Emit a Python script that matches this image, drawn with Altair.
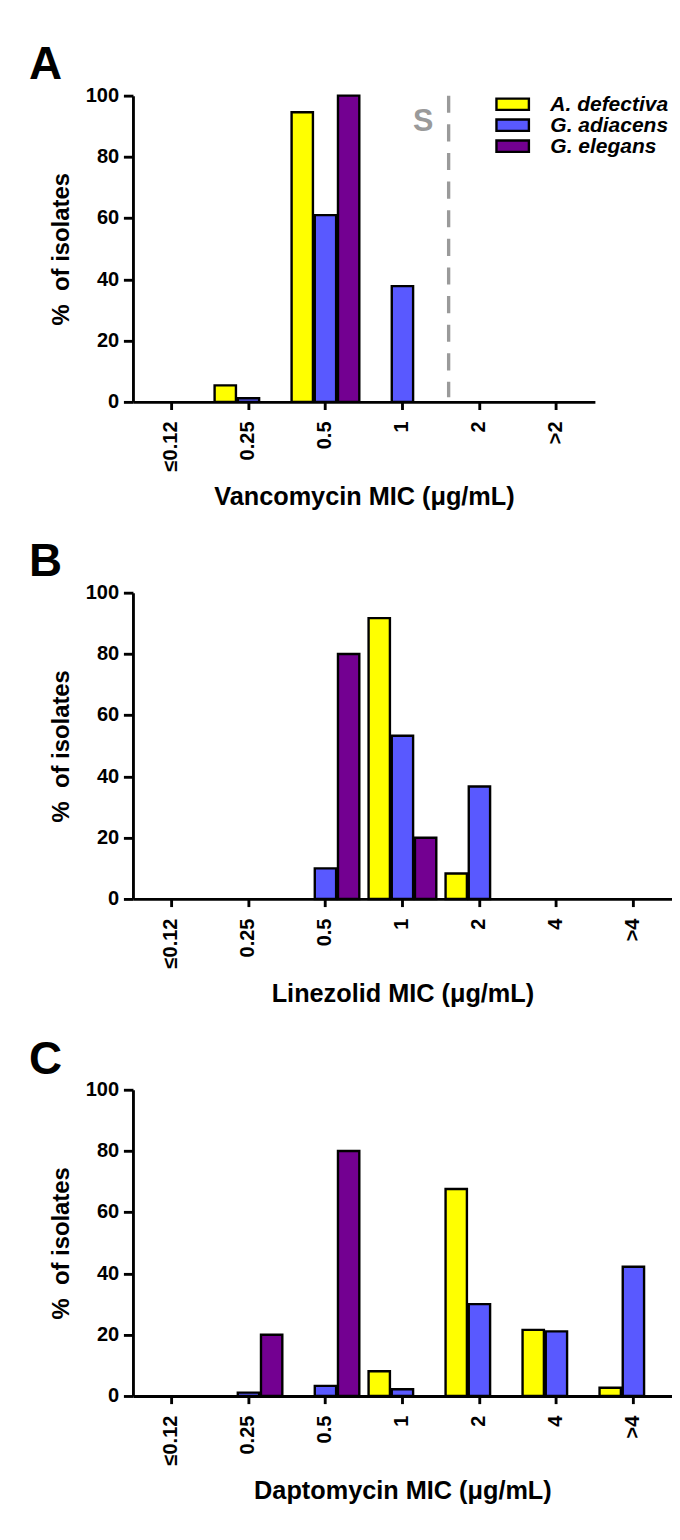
import altair as alt
import pandas as pd

FONT = "Liberation Sans"

SPECIES = ["A. defectiva", "G. adiacens", "G. elegans"]
COLORS = ["#FFFF00", "#5959FF", "#730091"]

# Panel A - Vancomycin
VANCO_MIC = ["≤0.12", "0.25", "0.5", "1", "2", ">2"]
VANCO_ADEF = [0, 5.4, 94.6, 0, 0, 0]
VANCO_GADI = [0, 1.2, 61.0, 37.8, 0, 0]
VANCO_GELE = [0, 0, 100.0, 0, 0, 0]

# Panel B - Linezolid
LINE_MIC = ["≤0.12", "0.25", "0.5", "1", "2", "4", ">4"]
LINE_ADEF = [0, 0, 0, 91.7, 8.3, 0, 0]
LINE_GADI = [0, 0, 10.0, 53.3, 36.7, 0, 0]
LINE_GELE = [0, 0, 80.0, 20.0, 0, 0, 0]

# Panel C - Daptomycin
DAPTO_MIC = ["≤0.12", "0.25", "0.5", "1", "2", "4", ">4"]
DAPTO_ADEF = [0, 0, 0, 8.1, 67.6, 21.6, 2.7]
DAPTO_GADI = [0, 1.1, 3.3, 2.2, 30.0, 21.1, 42.2]
DAPTO_GELE = [0, 20.0, 80.0, 0, 0, 0, 0]

# Susceptibility breakpoint annotation (panel A), just inside the MIC 2 band
BREAK_CAT = ["2"]
BREAK_TOP = [100]
BREAK_BOTTOM = [1.5]
S_CAT = ["1"]
S_LABEL_Y = [88.5]

STEP = 80.7
PLOT_H = 321


def long_df(cats, a, b, c):
    rows = []
    for name, vals in zip(SPECIES, [a, b, c]):
        for cat, v in zip(cats, vals):
            rows.append({"mic": cat, "species": name, "pct": v})
    return pd.DataFrame(rows)


def panel(letter, cats, a, b, c, xtitle, show_legend=False, breakpoint=False):
    df = long_df(cats, a, b, c)
    xscale = alt.Scale(domain=cats, paddingInner=0, paddingOuter=0)
    xaxis = alt.Axis(
        title=xtitle, labelAngle=-90, labelFont=FONT, labelFontSize=21,
        labelFontWeight="bold", labelColor="black", labelPadding=12,
        titleFont=FONT, titleFontSize=26.5, titleFontWeight="bold",
        titleColor="black", titlePadding=14, domainColor="black",
        domainWidth=3, tickColor="black", tickWidth=3, tickSize=8,
        grid=False,
    )
    yaxis = alt.Axis(
        title="%\u00a0 of isolates", values=[0, 20, 40, 60, 80, 100],
        labelFont=FONT, labelFontSize=21, labelFontWeight="bold",
        labelColor="black", labelPadding=5, titleFont=FONT,
        titleFontSize=25, titleFontWeight="bold", titleColor="black",
        titlePadding=13, domainColor="black", domainWidth=3,
        tickColor="black", tickWidth=3, tickSize=10, grid=False,
    )
    if show_legend:
        legend = alt.Legend(
            title=None, orient="none", legendX=387, legendY=-2,
            symbolType="M-2,-0.7H2V0.7H-2Z", symbolSize=289,
            symbolStrokeColor="black", symbolStrokeWidth=2.5,
            symbolOpacity=1, labelFont=FONT, labelFontSize=22,
            labelFontStyle="italic", labelFontWeight="bold",
            labelColor="black", labelOffset=28.5, rowPadding=0, padding=0,
        )
    else:
        legend = None

    bars = alt.Chart(df).transform_filter("datum.pct > 0").mark_bar(
        stroke="black", strokeWidth=2.5, opacity=1
    ).encode(
        x=alt.X("mic:N", sort=cats, scale=xscale, axis=xaxis),
        xOffset=alt.XOffset(
            "species:N", sort=SPECIES,
            scale=alt.Scale(domain=SPECIES, paddingInner=0.08, paddingOuter=0.2),
        ),
        y=alt.Y("pct:Q", scale=alt.Scale(domain=[0, 100], nice=False), axis=yaxis),
        color=alt.Color(
            "species:N", sort=SPECIES,
            scale=alt.Scale(domain=SPECIES, range=COLORS), legend=legend,
        ),
    )
    layers = [bars]
    if breakpoint:
        bdf = pd.DataFrame({"mic": BREAK_CAT, "top": BREAK_TOP,
                            "bottom": BREAK_BOTTOM})
        sdf = pd.DataFrame({"mic": S_CAT, "sy": S_LABEL_Y})
        rule = alt.Chart(bdf).mark_rule(
            color="#9a9a9a", strokeWidth=3.5, strokeDash=[18, 12]
        ).encode(
            x=alt.X("mic:N", bandPosition=0.1),
            y=alt.Y("top:Q"),
            y2="bottom:Q",
        )
        stext = alt.Chart(sdf).mark_text(
            text="S", font=FONT, fontSize=32, fontWeight="bold",
            color="#9a9a9a", baseline="alphabetic", align="center",
        ).encode(
            x=alt.X("mic:N", bandPosition=0.77),
            y=alt.Y("sy:Q"),
        )
        layers += [rule, stext]
    return alt.layer(*layers).properties(
        width=STEP * len(cats), height=PLOT_H,
        title=alt.TitleParams(
            letter, anchor="start", frame="bounds", font=FONT, fontSize=48,
            fontWeight="bold", color="black", dx=-21, offset=-4,
        ),
    )


pa = panel("A", VANCO_MIC, VANCO_ADEF, VANCO_GADI, VANCO_GELE,
           "Vancomycin MIC (μg/mL)", show_legend=True, breakpoint=True)
pb = panel("B", LINE_MIC, LINE_ADEF, LINE_GADI, LINE_GELE,
           "Linezolid MIC (μg/mL)")
pc = panel("C", DAPTO_MIC, DAPTO_ADEF, DAPTO_GADI, DAPTO_GELE,
           "Daptomycin MIC (μg/mL)")

chart = alt.vconcat(pa, pb, pc, spacing=32).properties(
    padding={"left": 21, "top": 0, "right": 0, "bottom": 0}
).resolve_scale(
    x="independent", color="independent"
).configure(background="white").configure_view(stroke=None)

chart.save("out.html", embed_options={"renderer": "svg", "actions": False})
